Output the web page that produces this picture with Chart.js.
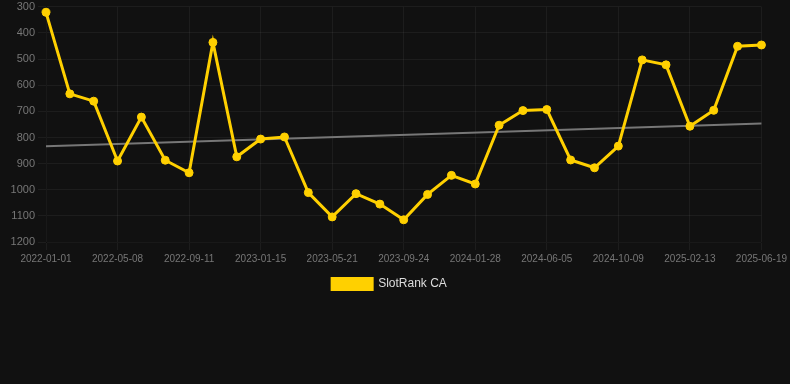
<!DOCTYPE html>
<html>
<head>
<meta charset="utf-8">
<script src="https://cdn.jsdelivr.net/npm/chart.js@4/dist/chart.umd.min.js"></script>
<style>
  html, body { margin: 0; padding: 0; background: #111111; }
  #wrap { width: 790px; height: 300px; position: relative; }
</style>
</head>
<body>
<div id="wrap"><canvas id="c"></canvas></div>
<script>
const dates = [
  '2022-01-01','2022-02-12','2022-03-26','2022-05-08','2022-06-19','2022-07-31',
  '2022-09-11','2022-10-23','2022-12-04','2023-01-15','2023-02-26','2023-04-09',
  '2023-05-21','2023-07-02','2023-08-13','2023-09-24','2023-11-05','2023-12-17',
  '2024-01-28','2024-03-10','2024-04-23','2024-06-05','2024-07-17','2024-08-28',
  '2024-10-09','2024-11-20','2025-01-01','2025-02-13','2025-03-27','2025-05-08',
  '2025-06-19'
];
const rankCA = [
  321, 633, 661, 890, 722, 887, 935, 436, 874, 806, 798, 1011,
  1104, 1015, 1055, 1115, 1018, 945, 978, 753, 697, 693, 886, 916,
  833, 503, 522, 757, 696, 451, 446
];
const trendStart = 834;
const trendEnd = 746;
const yTicks = [300, 400, 500, 600, 700, 800, 900, 1000, 1100, 1200];

const trend = dates.map((d, i) => i === 0 ? trendStart : (i === dates.length - 1 ? trendEnd : null));
const FONT = 'Arial, "Liberation Sans", Helvetica, sans-serif';
const GRID = 'rgba(255,255,255,0.05)';

new Chart(document.getElementById('c'), {
  type: 'line',
  data: {
    labels: dates,
    datasets: [
      {
        label: 'SlotRank CA',
        data: rankCA,
        borderColor: '#FFD000',
        backgroundColor: '#FFD000',
        borderWidth: 3,
        pointRadius: 4,
        pointBorderWidth: 1,
        pointHoverRadius: 5,
        pointBackgroundColor: '#FFD000',
        pointBorderColor: '#FFD000',
        tension: 0,
        order: 1
      },
      {
        label: 'trend',
        data: trend,
        borderColor: '#777777',
        borderWidth: 2,
        pointRadius: 0,
        spanGaps: true,
        fill: false,
        order: 2
      }
    ]
  },
  options: {
    responsive: true,
    maintainAspectRatio: false,
    animation: false,
    layout: { padding: { left: 0, right: 11, top: 0, bottom: 0 } },
    plugins: {
      legend: {
        position: 'bottom',
        labels: {
          color: '#dddddd',
          font: { family: FONT, size: 12 },
          boxWidth: 40,
          boxHeight: 11,
          filter: (item) => item.text !== 'trend'
        }
      },
      tooltip: { enabled: false }
    },
    scales: {
      x: {
        grid: {
          color: (ctx) => (ctx.index % 3 === 0 ? GRID : 'rgba(0,0,0,0)')
        },
        ticks: {
          color: '#777777',
          font: { family: FONT, size: 10 },
          autoSkip: false,
          maxRotation: 0,
          callback: function(v, i) { return i % 3 === 0 ? dates[i] : ''; }
        }
      },
      y: {
        reverse: true,
        min: 300,
        max: 1200,
        afterBuildTicks: (axis) => { axis.ticks = yTicks.map(v => ({ value: v })); },
        afterFit: (axis) => { axis.width = 46; },
        grid: { color: GRID },
        ticks: {
          color: '#777777',
          font: { family: FONT, size: 11, lineHeight: 0.7 },
          callback: (v) => String(v)
        }
      }
    }
  }
});
</script>
</body>
</html>
